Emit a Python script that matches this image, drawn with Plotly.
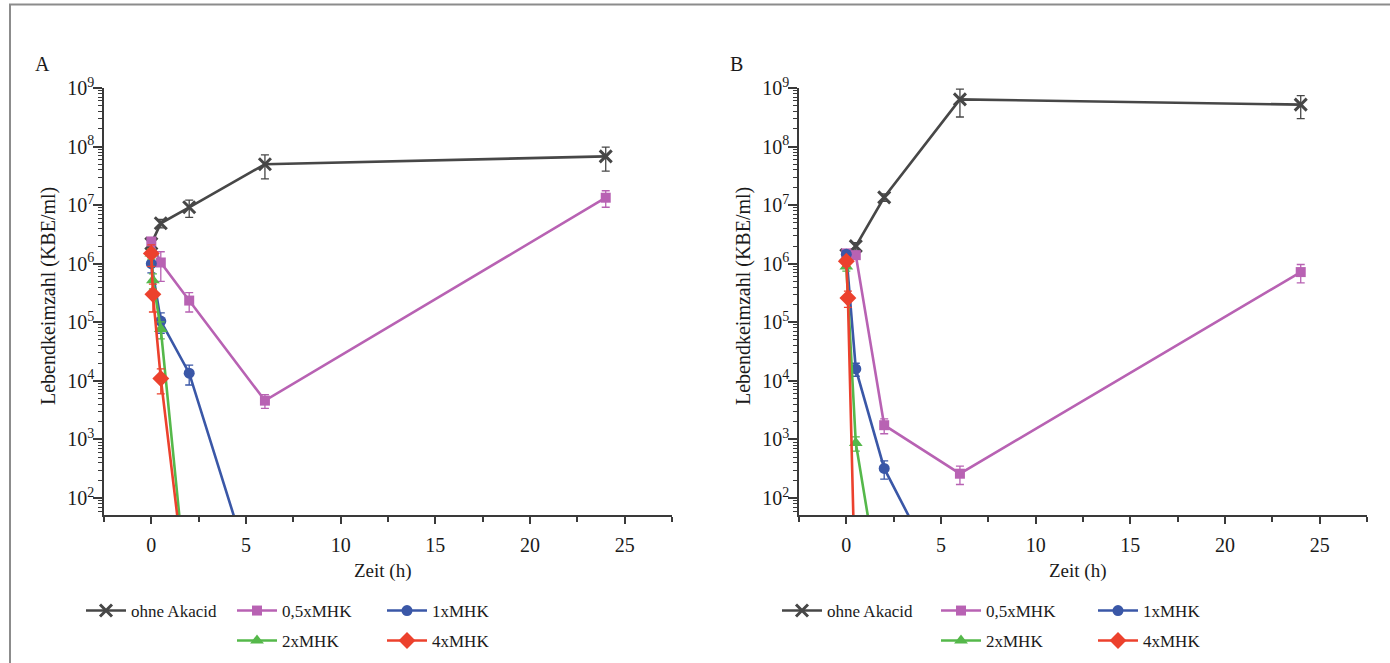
import plotly.graph_objects as go

# ---------------- data ----------------
series_names = ["ohne Akacid", "0,5xMHK", "1xMHK", "2xMHK", "4xMHK"]

# Panel A
ohne_t_a = [0, 0.5, 2, 6, 24]
ohne_v_a = [2.2e6, 4.9e6, 9.2e6, 5.0e7, 6.8e7]
ohne_e_a = [4e5, 8e5, 3e6, 2.2e7, 3e7]

mhk05_t_a = [0, 0.5, 2, 6, 24]
mhk05_v_a = [2.4e6, 1.05e6, 2.35e5, 4.6e3, 1.34e7]
mhk05_e_a = [3e5, 5.5e5, 8.5e4, 1.2e3, 4.2e6]

mhk1_t_a = [0, 0.5, 2, 6, 24]
mhk1_v_a = [1.0e6, 1.05e5, 1.35e4, 1, 1]
mhk1_e_a = [3e5, 4e4, 5e3, 0, 0]

mhk2_t_a = [0, 0.083, 0.5, 2, 6, 24]
mhk2_v_a = [1.5e6, 5.2e5, 7.7e4, 1, 1, 1]
mhk2_e_a = [3e5, 1.5e5, 2.5e4, 0, 0, 0]

mhk4_t_a = [0, 0.083, 0.5, 2, 6, 24]
mhk4_v_a = [1.5e6, 3.0e5, 1.1e4, 1, 1, 1]
mhk4_e_a = [6e5, 1.5e5, 5e3, 0, 0, 0]

# Panel B
ohne_t_b = [0, 0.5, 2, 6, 24]
ohne_v_b = [1.4e6, 2.0e6, 1.36e7, 6.4e8, 5.2e8]
ohne_e_b = [2e5, 3e5, 2e6, 3.2e8, 2.2e8]

mhk05_t_b = [0, 0.5, 2, 6, 24]
mhk05_v_b = [1.5e6, 1.4e6, 1.75e3, 2.6e2, 7.2e5]
mhk05_e_b = [2e5, 2e5, 5e2, 9e1, 2.5e5]

mhk1_t_b = [0, 0.5, 2, 6, 24]
mhk1_v_b = [1.45e6, 1.6e4, 3.2e2, 1, 1]
mhk1_e_b = [2e5, 4e3, 1.1e2, 0, 0]

mhk2_t_b = [0, 0.5, 2, 6, 24]
mhk2_v_b = [9e5, 8.7e2, 1, 1, 1]
mhk2_e_b = [1.5e5, 2.4e2, 0, 0, 0]

mhk4_t_b = [0, 0.083, 0.5, 2, 6, 24]
mhk4_v_b = [1.1e6, 2.6e5, 1, 1, 1, 1]
mhk4_e_b = [2e5, 8e4, 0, 0, 0, 0]

x_tick_vals = [0, 5, 10, 15, 20, 25]
y_tick_exps = [2, 3, 4, 5, 6, 7, 8, 9]

# ---------------- styling ----------------
W, H = 1390, 663
FONT = "Liberation Serif"
AX = "#3a3a3a"
TXT = "#1a1a1a"
colors = ["#474747", "#b862b3", "#3a57a7", "#55b84a", "#ec412d"]
symbols = ["x-thin-open", "square", "circle", "triangle-up", "diamond"]
msizes = [12, 10, 11, 12, 13]


def px(x):
    return x / W


def py(y):
    return 1 - y / H


# legend item positions (sample start x, top y) per panel
leg_pos = [
    [(81, 593), (232, 593), (382, 593), (232, 623), (382, 623)],
    [(777, 593), (936, 593), (1093, 593), (936, 623), (1093, 623)],
]

fig = go.Figure()

panel_data = [
    ("x", "y",
     [(ohne_t_a, ohne_v_a, ohne_e_a), (mhk05_t_a, mhk05_v_a, mhk05_e_a),
      (mhk1_t_a, mhk1_v_a, mhk1_e_a), (mhk2_t_a, mhk2_v_a, mhk2_e_a),
      (mhk4_t_a, mhk4_v_a, mhk4_e_a)]),
    ("x2", "y2",
     [(ohne_t_b, ohne_v_b, ohne_e_b), (mhk05_t_b, mhk05_v_b, mhk05_e_b),
      (mhk1_t_b, mhk1_v_b, mhk1_e_b), (mhk2_t_b, mhk2_v_b, mhk2_e_b),
      (mhk4_t_b, mhk4_v_b, mhk4_e_b)]),
]

legend_layouts = {}
n = 0
for p, (xa, ya, sers) in enumerate(panel_data):
    for i, (t, v, e) in enumerate(sers):
        n += 1
        lname = "legend" if n == 1 else f"legend{n}"
        lx, ly = leg_pos[p][i]
        legend_layouts[lname] = dict(
            x=px(lx), y=py(ly), xanchor="left", yanchor="top",
            orientation="h", bgcolor="rgba(0,0,0,0)", borderwidth=0,
            itemwidth=40, font=dict(family=FONT, size=17, color=TXT))
        is_x = symbols[i].startswith("x")
        fig.add_trace(go.Scatter(
            x=t, y=v, xaxis=xa, yaxis=ya, mode="lines+markers",
            name=series_names[i], legend=lname, showlegend=True,
            line=dict(color=colors[i], width=2.6),
            marker=dict(symbol=symbols[i], size=msizes[i], color=colors[i],
                        line=dict(color=colors[i], width=3 if is_x else 0)),
            error_y=dict(type="data", array=e, visible=True, color=colors[i],
                         thickness=1.3, width=4),
        ))

xaxis_style = dict(
    range=[-2.5, 27.5], showline=True, linecolor=AX, linewidth=1.5,
    ticks="outside", ticklen=7, tickwidth=1.5, tickcolor=AX,
    tickvals=x_tick_vals, showgrid=False, zeroline=False,
    ticklabelstandoff=4,
    tickfont=dict(family=FONT, size=20, color=TXT),
    minor=dict(ticks="outside", ticklen=5, tickwidth=1.5, tickcolor=AX,
               tick0=-2.5, dtick=5, showgrid=False),
)
yaxis_style = dict(
    type="log", range=[1.71, 9], showline=True, linecolor=AX, linewidth=1.5,
    ticks="outside", ticklen=9, tickwidth=1.5, tickcolor=AX,
    tickvals=[10 ** k for k in y_tick_exps],
    ticktext=[f"10<sup>{k}</sup>" for k in y_tick_exps],
    showgrid=False, zeroline=False, ticklabelstandoff=-5,
    tickfont=dict(family=FONT, size=20, color=TXT),
    minor=dict(ticks="outside", ticklen=4, tickwidth=1, tickcolor=AX,
               dtick="D1", showgrid=False),
)

fig.update_layout(
    width=W, height=H, autosize=False, template="none",
    margin=dict(l=0, r=0, t=0, b=0), showlegend=True,
    paper_bgcolor="white", plot_bgcolor="white",
    font=dict(family=FONT, size=18, color=TXT),
    xaxis=dict(domain=[px(104), px(672)], anchor="y", **xaxis_style),
    yaxis=dict(domain=[py(515), py(88)], anchor="x", **yaxis_style),
    xaxis2=dict(domain=[px(799), px(1367)], anchor="y2", **xaxis_style),
    yaxis2=dict(domain=[py(515), py(88)], anchor="x2", **yaxis_style),
    **legend_layouts,
)

annots = [
    dict(text="A", x=px(42), y=py(64), size=20),
    dict(text="B", x=px(737), y=py(64), size=20),
    dict(text="Zeit (h)", x=px(383), y=py(571), size=19),
    dict(text="Zeit (h)", x=px(1078), y=py(571), size=19),
    dict(text="Lebendkeimzahl (KBE/ml)", x=px(48), y=py(296), textangle=-90, size=20),
    dict(text="Lebendkeimzahl (KBE/ml)", x=px(743), y=py(296), textangle=-90, size=20),
]
for a in annots:
    size = a.pop("size")
    fig.add_annotation(xref="paper", yref="paper", showarrow=False,
                       xanchor="center", yanchor="middle",
                       font=dict(family=FONT, size=size, color=TXT), **a)

# outer frame
fig.add_shape(type="rect", xref="paper", yref="paper",
              x0=px(10), y0=py(4.5), x1=px(1400), y1=py(680),
              line=dict(color="#8c8c8c", width=2), layer="below")

fig.write_html("out.html", config={"displayModeBar": False},
               post_script="document.body.style.margin='0';")
